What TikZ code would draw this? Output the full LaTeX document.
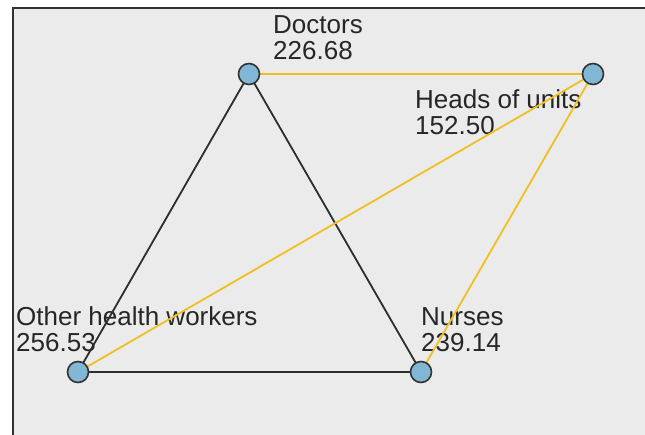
\documentclass[tikz,border=0pt]{standalone}
\usepackage{fontspec}
\setmainfont{Liberation Sans}
\usepackage{tikz}
\usetikzlibrary{positioning}
\definecolor{panelgray}{RGB}{235,235,235}
\definecolor{framegray}{RGB}{50,50,50}
\definecolor{dotblue}{RGB}{128,183,212}
\definecolor{tiegold}{RGB}{240,192,32}
\definecolor{tiedark}{RGB}{45,45,45}

\begin{document}
\begin{tikzpicture}[
    x=1pt, y=-1pt,
    actor/.style={circle, draw=framegray, line width=1.6pt, fill=dotblue, minimum size=21pt, inner sep=0pt},
    lbl/.style={font=\fontsize{26}{26}\selectfont, text=black!85, align=left, inner sep=0pt, anchor=base west},
    tie/.style={tiedark, line width=1.8pt},
    gtie/.style={tiegold, line width=1.8pt},
]
\useasboundingbox (0,0) rectangle (645,435);
% panel and frame
\fill[panelgray] (12,8) rectangle (645,435);
\draw[framegray, line width=2pt] (12.5,435) -- (12.5,8.5) -- (645,8.5);

% labels
\node[lbl] (doclbl) at (273,60) {Doctors\\226.68};
\node[lbl] (headlbl) at (415,135) {Heads of units\\152.50};
\node[lbl] (othlbl) at (16,352) {Other health workers\\256.53};
\node[lbl] (nurlbl) at (421,352) {Nurses\\239.14};

% positions
\coordinate (docpos) at (249,74);
\coordinate (headpos) at (593,74);
\coordinate (othpos) at (78,372);
\coordinate (nurpos) at (421,372);

% ties
\draw[tie] (docpos) -- (othpos);
\draw[tie] (docpos) -- (nurpos);
\draw[tie] (othpos) -- (nurpos);
\draw[gtie] (docpos) -- (headpos);
\draw[gtie] (headpos) -- (othpos);
\draw[gtie] (headpos) -- (nurpos);

% actors
\node[actor] (doc) at (docpos) {};
\node[actor] (head) at (headpos) {};
\node[actor] (oth) at (othpos) {};
\node[actor] (nur) at (nurpos) {};

\end{tikzpicture}
\end{document}
